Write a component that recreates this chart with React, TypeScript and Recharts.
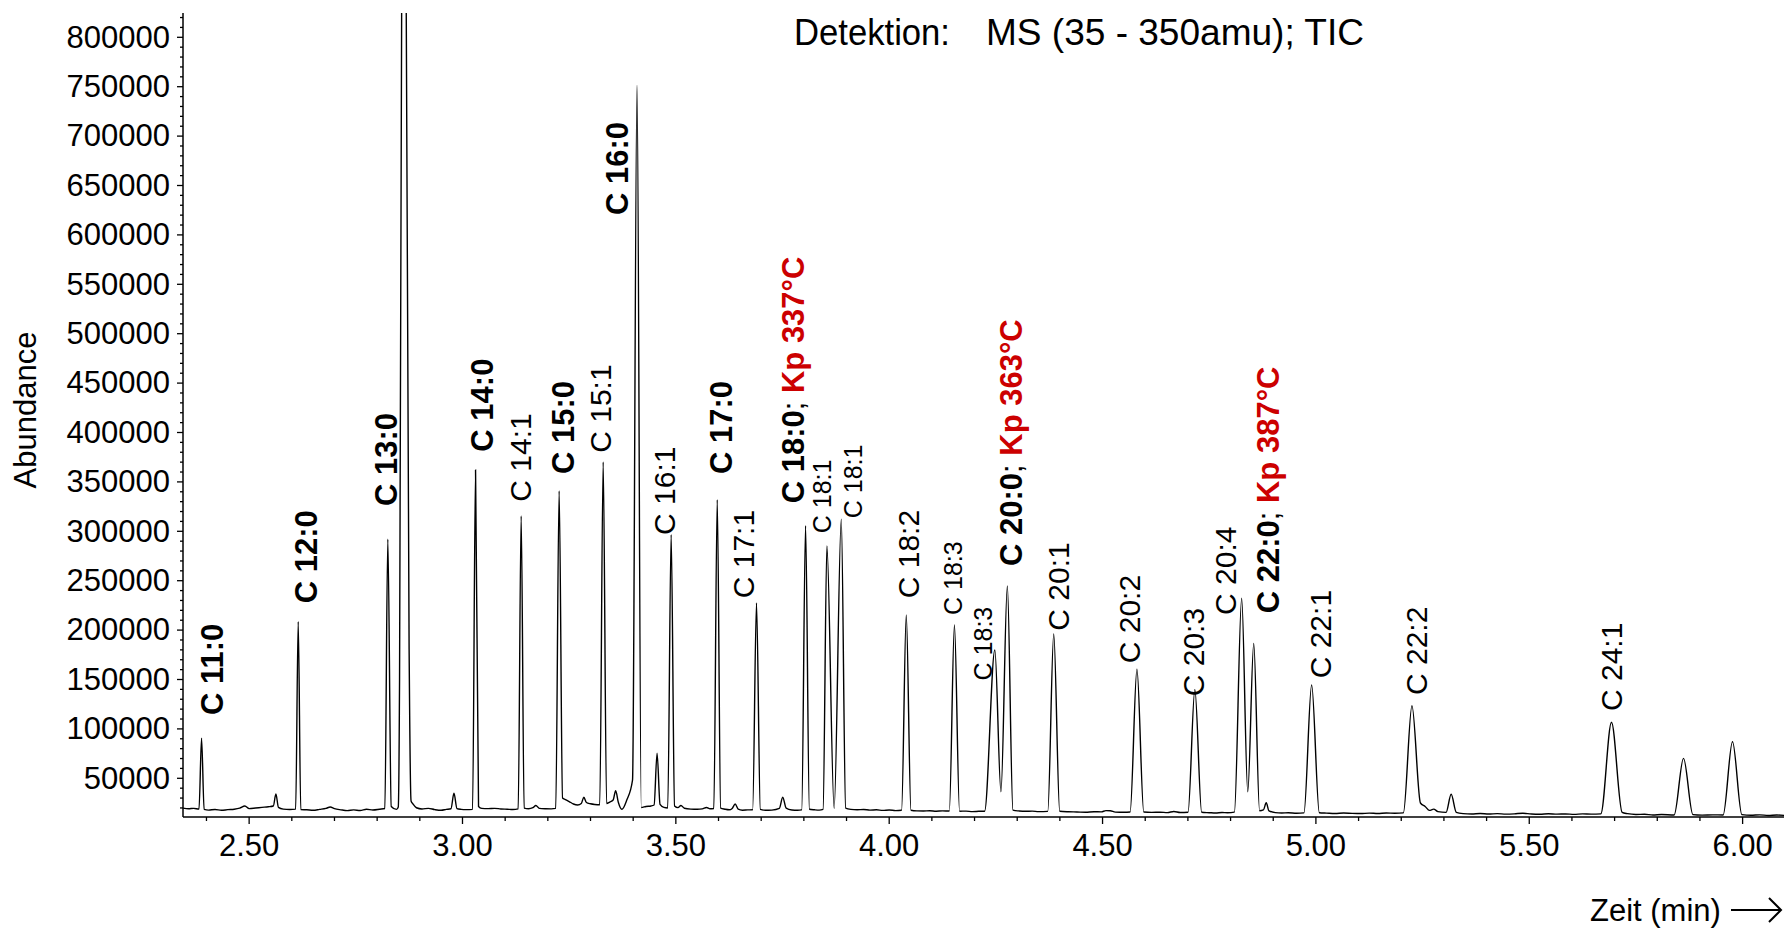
import { ComposedChart, Line, Scatter, XAxis, YAxis } from "recharts";

const FONT = '"Liberation Sans", Arial, Helvetica, sans-serif';
const RED = "#cc0000";

// TIC-Spur: [Zeit (min), Abundance]
const tracePoints: [number, number][] = [
  [2.345, 19800], [2.358, 19200], [2.37, 19600], [2.3825, 18800],
  [2.3885, 90500],
  [2.3945, 18500], [2.405, 17800], [2.42, 18400], [2.435, 17600], [2.45, 18300], [2.465, 18700],
  [2.478, 19800], [2.49, 22000], [2.5, 19300], [2.515, 19900], [2.53, 20600], [2.545, 21200], [2.5567, 22000],
  [2.5627, 34100],
  [2.5687, 20500], [2.58, 18800], [2.595, 18400], [2.609, 18800],
  [2.615, 208500],
  [2.621, 18300], [2.635, 18100], [2.65, 17600], [2.665, 18500], [2.68, 19500], [2.69, 21000], [2.7, 19300],
  [2.715, 18100], [2.73, 17300], [2.745, 18000], [2.76, 17400], [2.775, 18600], [2.79, 17900], [2.806, 18700],
  [2.818, 19400],
  [2.825, 291900],
  [2.833, 21500], [2.8454, 18500], [2.8495, 21000], [2.8525, 150000], [2.8574, 825000],
  [2.8637, 3000000],
  [2.8682, 825000], [2.8755, 150000], [2.8795, 27000], [2.884, 24000], [2.892, 20200], [2.905, 19000],
  [2.92, 19600], [2.935, 18300], [2.95, 17600], [2.962, 18500], [2.973, 19200],
  [2.98, 34800],
  [2.987, 19400], [2.997, 18600], [3.008, 18300], [3.0236, 18600],
  [3.0306, 362000],
  [3.0376, 21500], [3.045, 19600], [3.06, 19300], [3.075, 19600], [3.09, 19000], [3.105, 18700], [3.118, 18400],
  [3.1305, 19000],
  [3.1375, 315500],
  [3.1445, 19800], [3.155, 19200], [3.165, 20300], [3.172, 22500], [3.18, 19600], [3.195, 19200], [3.208, 19100],
  [3.2185, 19500],
  [3.2265, 340800],
  [3.2345, 30000], [3.241, 28500], [3.25, 26500], [3.26, 24000], [3.27, 23000], [3.2784, 24500],
  [3.2844, 30800],
  [3.2904, 25500], [3.3, 24200], [3.31, 23500], [3.3217, 23200],
  [3.3297, 370100],
  [3.3377, 24500], [3.345, 26000], [3.353, 28000],
  [3.359, 37400],
  [3.365, 26000], [3.3735, 18600], [3.385, 28000], [3.3985, 48300],
  [3.409, 751400],
  [3.419, 20500], [3.43, 21500], [3.442, 22000], [3.449, 23000],
  [3.456, 75300],
  [3.463, 23500], [3.472, 20500], [3.481, 20000],
  [3.489, 296500],
  [3.497, 22000], [3.505, 20300], [3.512, 22500], [3.52, 19700], [3.535, 18800], [3.55, 18600], [3.562, 19000],
  [3.572, 20500], [3.58, 19200], [3.589, 19500],
  [3.597, 332000],
  [3.605, 19800], [3.615, 18700], [3.625, 18100], [3.632, 19500],
  [3.639, 24000],
  [3.646, 18800], [3.656, 17700], [3.668, 18000], [3.68, 18200],
  [3.689, 227400],
  [3.698, 18500], [3.71, 17600], [3.725, 17800], [3.7425, 19500],
  [3.7505, 30800],
  [3.7585, 19800], [3.772, 17900], [3.785, 17600], [3.795, 18000],
  [3.804, 305700],
  [3.813, 18700], [3.825, 18100], [3.836, 17800], [3.845, 18500],
  [3.854, 285100],
  [3.871, 19500],
  [3.8877, 312300],
  [3.898, 19800], [3.91, 18500], [3.925, 18100], [3.94, 18400], [3.955, 17800], [3.97, 18100], [3.985, 17500],
  [4.0, 17900], [4.015, 17300], [4.029, 17600],
  [4.04, 215300],
  [4.051, 17600], [4.065, 17000], [4.08, 16900], [4.095, 17200], [4.11, 16700], [4.125, 17000], [4.1409, 16900],
  [4.1529, 205200],
  [4.1649, 16700], [4.18, 16800], [4.195, 16300], [4.21, 16600], [4.2236, 16700],
  [4.2476, 179900],
  [4.2619, 36400],
  [4.2769, 244600],
  [4.29, 17800], [4.305, 16900], [4.32, 16600], [4.335, 16800], [4.35, 16300], [4.3716, 16500],
  [4.3856, 196100],
  [4.3996, 16700], [4.42, 16100], [4.44, 15900], [4.46, 15600], [4.48, 16200], [4.497, 16000], [4.508, 17300],
  [4.518, 17200], [4.53, 15800], [4.55, 15600], [4.5646, 15900],
  [4.5806, 160300],
  [4.5966, 15900], [4.615, 15500], [4.635, 15700], [4.652, 15300], [4.667, 16400], [4.682, 15400], [4.7003, 15600],
  [4.7163, 140000],
  [4.7323, 15600], [4.75, 15200], [4.765, 14900], [4.78, 15400], [4.793, 15200], [4.809, 15800],
  [4.826, 232200],
  [4.8403, 36400],
  [4.8543, 186600],
  [4.868, 17200], [4.877, 18000],
  [4.8836, 25300],
  [4.89, 17000], [4.905, 15300], [4.92, 14900], [4.935, 15200], [4.955, 14700], [4.972, 15000],
  [4.99, 144400],
  [5.008, 15200], [5.025, 14800], [5.045, 14400], [5.065, 14900], [5.085, 14500], [5.105, 14300], [5.125, 14800],
  [5.145, 14400], [5.165, 14900], [5.185, 14600], [5.205, 15000],
  [5.2251, 123500],
  [5.245, 25000], [5.256, 21500], [5.266, 17500], [5.276, 18800], [5.286, 16300], [5.305, 15500],
  [5.317, 33800],
  [5.329, 15600], [5.345, 14300], [5.365, 13900], [5.385, 14300], [5.405, 13800], [5.425, 14200], [5.445, 13700],
  [5.465, 14000], [5.485, 14700], [5.505, 13800], [5.525, 13600], [5.545, 14100], [5.565, 13700], [5.585, 13900],
  [5.605, 13500], [5.625, 14000], [5.645, 13700], [5.6677, 14000],
  [5.6927, 106700],
  [5.7177, 15500], [5.73, 14200], [5.75, 13400], [5.77, 13600], [5.79, 12900], [5.81, 13300], [5.8395, 12800],
  [5.8615, 70200],
  [5.8835, 13200], [5.905, 12700], [5.93, 13000], [5.9543, 12900],
  [5.9763, 87000],
  [5.9983, 13200], [6.02, 12600], [6.04, 13000], [6.06, 12400], [6.08, 12800], [6.097, 12500],
];

// Peak-Beschriftungen
const labelTexts = [
  "C 11:0", "C 12:0", "C 13:0", "C 14:0", "C 14:1", "C 15:0", "C 15:1", "C 16:0", "C 16:1",
  "C 17:0", "C 17:1", "C 18:0", "C 18:1", "C 18:1", "C 18:2", "C 18:3", "C 18:3", "C 20:0",
  "C 20:1", "C 20:2", "C 20:3", "C 20:4", "C 22:0", "C 22:1", "C 22:2", "C 24:1",
];
const labelKp = [
  "", "", "", "", "", "", "", "", "",
  "", "", "Kp 337°C", "", "", "", "", "", "Kp 363°C",
  "", "", "", "", "Kp 387°C", "", "", "",
];
const labelKinds = [
  "b", "b", "b", "b", "n", "b", "n", "b", "n",
  "b", "n", "b", "s", "s", "n", "s", "s", "b",
  "n", "n", "n", "n", "b", "n", "n", "n",
];
const labelTimes = [
  2.4135, 2.6333, 2.8215, 3.0458, 3.1356, 3.2342, 3.3238, 3.3617, 3.4735,
  3.6064, 3.6589, 3.774, 3.8419, 3.915, 4.0437, 4.1485, 4.2195, 4.2844,
  4.3964, 4.5628, 4.7135, 4.7866, 4.8867, 5.01, 5.235, 5.6913,
];
const labelBottoms = [
  114000, 227100, 325600, 380600, 330000, 358000, 379500, 620100, 296300,
  358000, 232200, 328300, 298000, 313200, 232200, 215300, 149100, 264900,
  199400, 166400, 133000, 215300, 217000, 151200, 134300, 118100,
];

const xMajorTicks = [2.5, 3.0, 3.5, 4.0, 4.5, 5.0, 5.5, 6.0];
const yMajorTicks = [
  50000, 100000, 150000, 200000, 250000, 300000, 350000, 400000,
  450000, 500000, 550000, 600000, 650000, 700000, 750000, 800000,
];

const xTicks: number[] = [];
for (let i = 24; i <= 60; i++) xTicks.push(i / 10);
const yTicks: number[] = [];
for (let i = 2; i <= 82; i++) yTicks.push(i * 10000);

const traceData = tracePoints.map(([t, v]) => ({ t, v }));
const labelData = labelTexts.map((text, i) => ({
  t: labelTimes[i],
  v: labelBottoms[i],
  text,
  kp: labelKp[i],
  kind: labelKinds[i],
}));

const XTick = (props: any) => {
  const { x, y, payload } = props;
  const v = payload.value;
  const major = xMajorTicks.some((m) => Math.abs(m - v) < 1e-6);
  return (
    <g>
      <line x1={x} y1={y} x2={x} y2={y + (major ? 7 : 4)} stroke="#000" strokeWidth={1.3} />
      {major && (
        <text x={x} y={y + 39} textAnchor="middle" fontSize={31} fontFamily={FONT} fill="#000">
          {v.toFixed(2)}
        </text>
      )}
    </g>
  );
};

const YTick = (props: any) => {
  const { x, y, payload } = props;
  const v = payload.value;
  const major = yMajorTicks.includes(v);
  return (
    <g>
      <line x1={x - (major ? 6 : 3)} y1={y} x2={x} y2={y} stroke="#000" strokeWidth={1.3} />
      {major && (
        <text x={x - 13} y={y} dy="0.33em" textAnchor="end" fontSize={31} fontFamily={FONT} fill="#000">
          {v}
        </text>
      )}
    </g>
  );
};

const PeakLabel = (props: any) => {
  const { cx, cy, payload } = props;
  if (cx == null || cy == null) return <g />;
  const size = payload.kind === "s" ? 25 : payload.kind === "n" ? 30 : 31;
  const bold = payload.kind === "b";
  return (
    <text
      transform={`translate(${cx},${cy}) rotate(-90)`}
      dy="0.36em"
      textAnchor="start"
      fontSize={size}
      fontFamily={FONT}
      fill="#000"
    >
      <tspan fontWeight={bold ? "bold" : "normal"}>{payload.text}</tspan>
      {payload.kp && <tspan>; </tspan>}
      {payload.kp && (
        <tspan fill={RED} fontWeight="bold">
          {payload.kp}
        </tspan>
      )}
    </text>
  );
};

export default function App() {
  return (
    <div style={{ position: "absolute", left: 0, top: 0, width: 1784, height: 929, background: "#fff" }}>
      <ComposedChart
        width={1784}
        height={929}
        margin={{ top: 13, right: 0, bottom: 0, left: 0 }}
        style={{ fontFamily: FONT }}
      >
        <XAxis
          type="number"
          dataKey="t"
          domain={[2.345, 6.097]}
          allowDataOverflow
          ticks={xTicks}
          interval={0}
          height={112}
          tickSize={0}
          tickMargin={0}
          tick={XTick}
          axisLine={{ stroke: "#000", strokeWidth: 1.5 }}
        />
        <YAxis
          type="number"
          dataKey="v"
          domain={[10830, 824600]}
          allowDataOverflow
          ticks={yTicks}
          interval={0}
          width={183}
          tickSize={0}
          tickMargin={0}
          tick={YTick}
          axisLine={{ stroke: "#000", strokeWidth: 1.5 }}
        />
        <Line
          data={traceData}
          type="monotone"
          dataKey="v"
          stroke="#000"
          strokeWidth={1.4}
          dot={false}
          activeDot={false}
          isAnimationActive={false}
        />
        <Scatter data={labelData} dataKey="v" shape={PeakLabel} isAnimationActive={false} />
      </ComposedChart>
      <svg
        width={1784}
        height={929}
        style={{ position: "absolute", left: 0, top: 0, pointerEvents: "none" }}
        fontFamily={FONT}
      >
        <text x={794} y={45} fontSize={37} fill="#000" textLength={156} lengthAdjust="spacingAndGlyphs">
          Detektion:
        </text>
        <text x={986} y={45} fontSize={37} fill="#000" textLength={378} lengthAdjust="spacingAndGlyphs">
          MS (35 - 350amu); TIC
        </text>
        <text transform="translate(25,410) rotate(-90)" dy="0.35em" textAnchor="middle" fontSize={31} fill="#000">
          Abundance
        </text>
        <text x={1590} y={921} fontSize={31} fill="#000">
          Zeit (min)
        </text>
        <path d="M1731 910 H1781 M1769 898 L1781 910 L1769 922" stroke="#000" strokeWidth={2} fill="none" />
      </svg>
    </div>
  );
}
